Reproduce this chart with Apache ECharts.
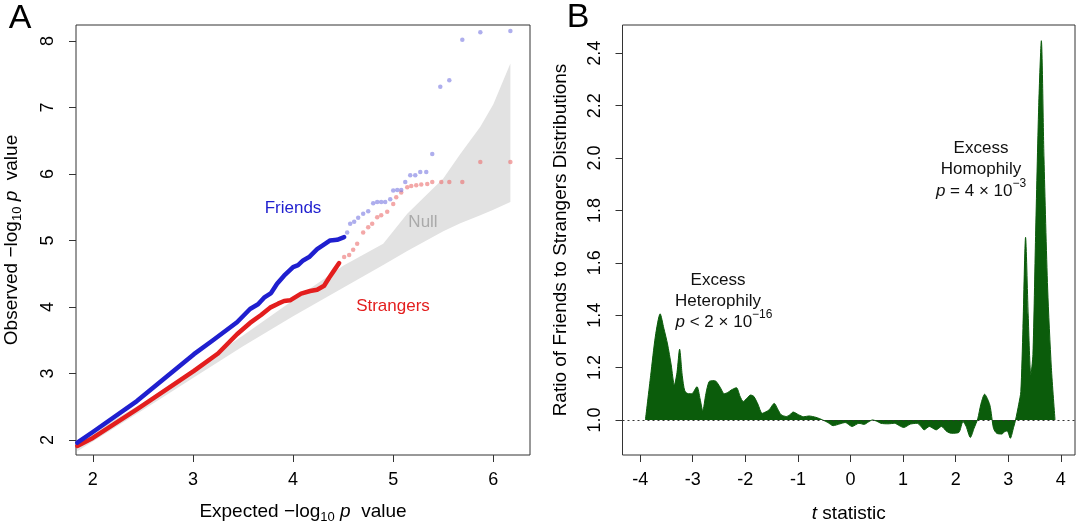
<!DOCTYPE html>
<html><head><meta charset="utf-8">
<script src="https://cdn.jsdelivr.net/npm/echarts@6/dist/echarts.min.js"></script>
<style>html,body{margin:0;padding:0;background:#fff}#c{width:1080px;height:522px}</style>
</head><body><div id="c"></div>
<script>
const FONT = "'Liberation Sans', Arial, Helvetica, sans-serif";

// ---------- Panel A: QQ plot ----------
const qqTicksX = [2, 3, 4, 5, 6];
const qqTicksY = [2, 3, 4, 5, 6, 7, 8];

const nullX     = [1.845, 2.5, 3.0, 3.5, 4.0, 4.5, 4.9, 5.14, 5.5, 5.67, 5.87, 6.0, 6.17];
const nullLower = [1.83, 2.45, 2.93, 3.41, 3.86, 4.29, 4.63, 4.84, 5.14, 5.26, 5.38, 5.46, 5.58];
const nullUpper = [1.97, 2.56, 3.06, 3.57, 4.10, 4.62, 4.95, 5.40, 5.93, 6.30, 6.71, 7.05, 7.66];

const friendsDenseX = [1.845, 2.0, 2.44, 3.01, 3.20, 3.44, 3.57, 3.65, 3.71, 3.78, 3.84, 3.91, 4.0, 4.05, 4.1, 4.16, 4.24, 4.30, 4.37, 4.44, 4.51];
const friendsDenseY = [1.96, 2.12, 2.585, 3.29, 3.50, 3.77, 3.97, 4.04, 4.14, 4.21, 4.35, 4.47, 4.60, 4.63, 4.70, 4.75, 4.87, 4.93, 5.00, 5.01, 5.05];
const friendsSparseX = [4.54, 4.57, 4.61, 4.65, 4.70, 4.75, 4.80, 4.84, 4.88, 4.92, 4.97, 5.00, 5.04, 5.08, 5.12, 5.17, 5.22, 5.27, 5.33, 5.39, 5.47, 5.56, 5.69, 5.87, 6.17];
const friendsSparseY = [5.12, 5.25, 5.28, 5.34, 5.40, 5.44, 5.56, 5.58, 5.58, 5.58, 5.62, 5.75, 5.76, 5.76, 5.88, 5.98, 5.98, 6.03, 6.03, 6.30, 7.31, 7.41, 8.02, 8.13, 8.15];

const strangersDenseX = [1.845, 2.0, 2.44, 3.01, 3.25, 3.44, 3.57, 3.68, 3.77, 3.85, 3.91, 3.97, 4.08, 4.17, 4.24, 4.31, 4.36, 4.41, 4.46];
const strangersDenseY = [1.91, 2.03, 2.46, 3.04, 3.30, 3.59, 3.76, 3.88, 3.99, 4.05, 4.09, 4.10, 4.20, 4.24, 4.26, 4.32, 4.44, 4.55, 4.66];
const strangersSparseX = [4.51, 4.56, 4.60, 4.64, 4.70, 4.75, 4.79, 4.84, 4.88, 4.94, 5.00, 5.03, 5.08, 5.14, 5.18, 5.23, 5.28, 5.34, 5.39, 5.48, 5.56, 5.69, 5.87, 6.17];
const strangersSparseY = [4.75, 4.78, 4.86, 4.95, 5.12, 5.20, 5.25, 5.35, 5.38, 5.43, 5.55, 5.65, 5.72, 5.80, 5.82, 5.83, 5.84, 5.85, 5.88, 5.88, 5.88, 5.88, 6.18, 6.18];

// ---------- Panel B: ratio of distributions ----------
const tTicks = [-4, -3, -2, -1, 0, 1, 2, 3, 4];
const ratioTicks = [1.0, 1.2, 1.4, 1.6, 1.8, 2.0, 2.2, 2.4];
const tValues = [-3.90, -3.80, -3.71, -3.62, -3.55, -3.48, -3.41, -3.35, -3.30, -3.25, -3.20, -3.15, -3.08, -3.02, -2.92, -2.86, -2.81, -2.75, -2.69, -2.62, -2.56, -2.48, -2.40, -2.33, -2.27, -2.17, -2.10, -2.04, -1.96, -1.90, -1.84, -1.76, -1.68, -1.62, -1.55, -1.45, -1.38, -1.32, -1.22, -1.15, -1.09, -0.99, -0.89, -0.79, -0.66, -0.53, -0.43, -0.33, -0.20, -0.10, 0.03, 0.16, 0.26, 0.34, 0.42, 0.50, 0.58, 0.71, 0.84, 0.93, 1.01, 1.14, 1.27, 1.34, 1.40, 1.50, 1.63, 1.73, 1.83, 1.92, 2.06, 2.14, 2.20, 2.28, 2.35, 2.42, 2.48, 2.55, 2.65, 2.72, 2.78, 2.88, 2.93, 2.98, 3.04, 3.10, 3.14, 3.20, 3.24, 3.28, 3.33, 3.38, 3.43, 3.47, 3.52, 3.58, 3.63, 3.68, 3.75, 3.82, 3.89];
const ratioValues = [1.00, 1.17, 1.32, 1.405, 1.35, 1.29, 1.21, 1.133, 1.18, 1.27, 1.17, 1.11, 1.10, 1.10, 1.127, 1.08, 1.035, 1.10, 1.146, 1.150, 1.148, 1.125, 1.10, 1.105, 1.114, 1.123, 1.09, 1.07, 1.085, 1.095, 1.09, 1.06, 1.025, 1.03, 1.038, 1.063, 1.04, 1.02, 1.013, 1.02, 1.03, 1.02, 1.012, 1.015, 1.01, 1.00, 0.99, 0.978, 0.985, 0.99, 0.975, 0.987, 0.983, 0.992, 1.00, 0.995, 0.987, 0.985, 0.987, 0.978, 0.971, 0.984, 0.987, 0.975, 0.962, 0.975, 0.962, 0.975, 0.956, 0.949, 0.952, 0.994, 0.975, 0.933, 0.968, 1.004, 1.06, 1.098, 1.057, 0.968, 0.949, 0.946, 0.955, 0.958, 0.93, 0.97, 1.00, 1.06, 1.108, 1.35, 1.697, 1.40, 1.171, 1.25, 1.70, 2.20, 2.448, 2.00, 1.50, 1.20, 1.00];

const BLUE = '#1f1fcf', RED = '#e31e1e', GREEN = '#0b5c0b', AXIS = '#333';

function zip(a, b) { return a.map((v, i) => [v, b[i]]); }

const baseLabel = { color: '#000', fontSize: 18, fontFamily: FONT };
const richName = {
  n: { fontSize: 19, fontFamily: FONT, color: '#000', lineHeight: 24, verticalAlign: 'middle' },
  s: { fontSize: 13, fontFamily: FONT, color: '#000', lineHeight: 13, verticalAlign: 'bottom' },
  i: { fontSize: 19, fontFamily: FONT, color: '#000', fontStyle: 'italic', lineHeight: 24, verticalAlign: 'middle' }
};

function xAxisCfg(grid, min, max, ticks, name, gap) {
  return {
    type: 'value', gridIndex: grid, min: min, max: max,
    splitLine: { show: false },
    axisLine: { show: false, onZero: false },
    axisTick: { show: true, customValues: ticks, length: 7, lineStyle: { color: AXIS, width: 1 } },
    axisLabel: Object.assign({ customValues: ticks, margin: 16 }, baseLabel),
    name: name, nameLocation: 'middle', nameGap: gap,
    nameTextStyle: { rich: richName, fontSize: 19, fontFamily: FONT, color: '#000' }
  };
}
function yAxisCfg(grid, min, max, ticks, name, gap, margin, fmt) {
  return {
    type: 'value', gridIndex: grid, min: min, max: max,
    splitLine: { show: false },
    axisLine: { show: false, onZero: false },
    axisTick: { show: true, customValues: ticks, length: 7, lineStyle: { color: AXIS, width: 1 } },
    axisLabel: Object.assign({ customValues: ticks, margin: margin, rotate: 90, formatter: fmt }, baseLabel),
    name: name, nameLocation: 'middle', nameGap: gap, nameRotate: 90,
    nameTextStyle: { rich: richName, fontSize: 19, fontFamily: FONT, color: '#000' }
  };
}

const chart = echarts.init(document.getElementById('c'), null, { renderer: 'canvas' });

const supRich = {
  n: { fontSize: 17, fontFamily: FONT, color: '#111', lineHeight: 26, verticalAlign: 'middle' },
  i: { fontSize: 17, fontFamily: FONT, color: '#111', fontStyle: 'italic', lineHeight: 26, verticalAlign: 'middle' },
  s: { fontSize: 12, fontFamily: FONT, color: '#111', lineHeight: 12, verticalAlign: 'top' }
};
function annText(x, y, text, color, size, rich) {
  return { type: 'text', x: x, y: y, z: 100,
    style: { text: text, fill: color, font: size + 'px ' + FONT, fontSize: size, fontFamily: FONT,
      align: 'center', verticalAlign: 'middle', textAlign: 'center', textVerticalAlign: 'middle', rich: rich } };
}

const option = {
  animation: false,
  backgroundColor: '#fff',
  grid: [
    { left: 76, top: 25, width: 454, height: 430, show: true, borderColor: AXIS, borderWidth: 1, containLabel: false, outerBoundsMode: 'none' },
    { left: 622.5, top: 25, width: 452.5, height: 430, show: true, borderColor: AXIS, borderWidth: 1, containLabel: false, outerBoundsMode: 'none' }
  ],
  xAxis: [
    xAxisCfg(0, 1.832, 6.366, qqTicksX, '{n|Expected −log}{s|10}{i| p}{n|  value}', 45),
    xAxisCfg(1, -4.336, 4.27, tTicks, '{i|t}{n| statistic}', 47)
  ],
  yAxis: [
    yAxisCfg(0, 1.774, 8.24, qqTicksY, '{n|Observed −log}{s|10}{i| p}{n|  value}', 52, 19, v => String(v)),
    yAxisCfg(1, 0.866, 2.508, ratioTicks, '{n|Ratio of Friends to Strangers Distributions}', 50, 18, v => v.toFixed(1))
  ],
  series: [
    {
      type: 'custom', xAxisIndex: 0, yAxisIndex: 0, silent: true, z: 1,
      data: nullX.map((x, i) => [x, nullLower[i], nullUpper[i]]),
      encode: { x: 0, y: [1, 2] },
      renderItem: function (params, api) {
        if (params.dataIndex !== 0) return null;
        const pts = [];
        for (let i = 0; i < nullX.length; i++) pts.push(api.coord([nullX[i], nullUpper[i]]));
        for (let i = nullX.length - 1; i >= 0; i--) pts.push(api.coord([nullX[i], nullLower[i]]));
        return { type: 'polygon', shape: { points: pts }, style: { fill: '#e2e2e2' } };
      }
    },
    {
      type: 'scatter', xAxisIndex: 0, yAxisIndex: 0, z: 2, symbolSize: 4.5,
      itemStyle: { color: 'rgba(235,110,110,0.75)' },
      data: zip(strangersSparseX, strangersSparseY)
    },
    {
      type: 'scatter', xAxisIndex: 0, yAxisIndex: 0, z: 2, symbolSize: 4.5,
      itemStyle: { color: 'rgba(120,120,225,0.75)' },
      data: zip(friendsSparseX, friendsSparseY)
    },
    {
      type: 'line', xAxisIndex: 0, yAxisIndex: 0, z: 3, showSymbol: false, smooth: false,
      lineStyle: { color: RED, width: 4.5, cap: 'round', join: 'round' },
      data: zip(strangersDenseX, strangersDenseY)
    },
    {
      type: 'line', xAxisIndex: 0, yAxisIndex: 0, z: 4, showSymbol: false, smooth: false,
      lineStyle: { color: BLUE, width: 4.5, cap: 'round', join: 'round' },
      data: zip(friendsDenseX, friendsDenseY)
    },
    {
      type: 'line', xAxisIndex: 1, yAxisIndex: 1, z: 2, showSymbol: false, smooth: 0.25,
      lineStyle: { color: GREEN, width: 1 },
      areaStyle: { color: GREEN, opacity: 1, origin: 1 },
      data: zip(tValues, ratioValues),
      markLine: {
        silent: true, symbol: 'none', label: { show: false },
        lineStyle: { color: AXIS, width: 1, type: [2, 3] },
        data: [{ yAxis: 1 }]
      }
    }
  ],
  graphic: [
    annText(20, 19, 'A', '#000', 34),
    annText(578, 18, 'B', '#000', 34),
    annText(293, 208, 'Friends', BLUE, 17),
    annText(423, 222, 'Null', '#aaaaaa', 17),
    annText(393, 306, 'Strangers', RED, 17),
    annText(718, 280, 'Excess', '#111', 17),
    annText(718, 301, 'Heterophily', '#111', 17),
    annText(724, 322, '{i|p}{n| < 2 × 10}{s|−16}', '#111', 17, supRich),
    annText(981, 148, 'Excess', '#111', 17),
    annText(981, 169, 'Homophily', '#111', 17),
    annText(981, 191, '{i|p}{n| = 4 × 10}{s|−3}', '#111', 17, supRich)
  ]
};
chart.setOption(option);
</script>
</body></html>
